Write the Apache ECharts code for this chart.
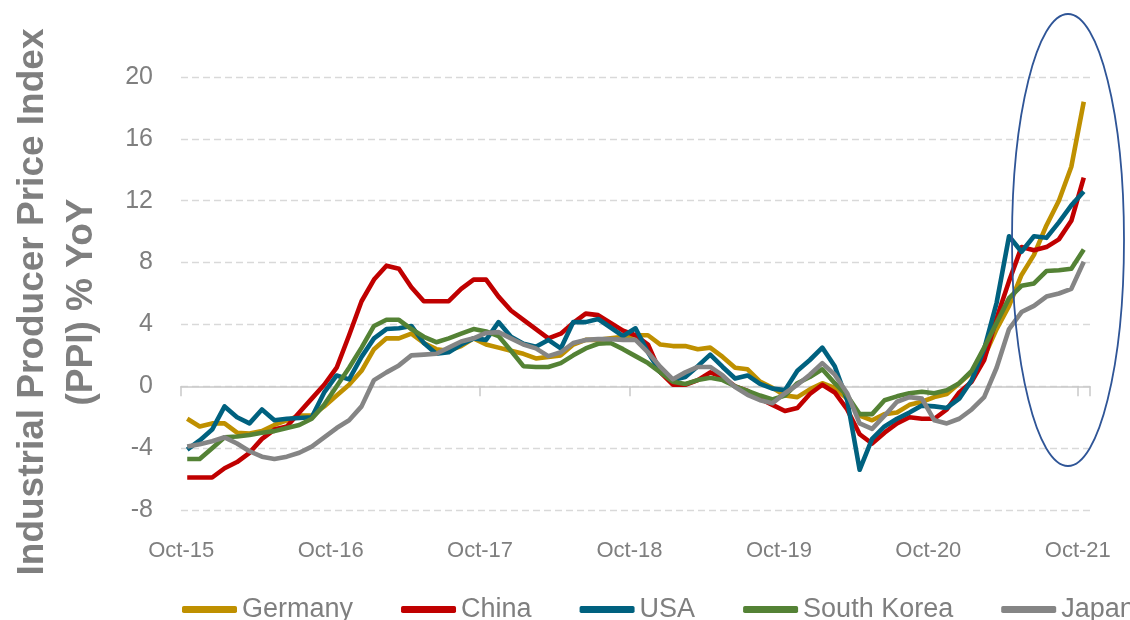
<!DOCTYPE html>
<html>
<head>
<meta charset="utf-8">
<title>Industrial Producer Price Index (PPI) % YoY</title>
<script src="https://cdn.jsdelivr.net/npm/echarts@6/dist/echarts.min.js"></script>
<style>
html, body { margin: 0; padding: 0; background: #fff; }
#chart { width: 1130px; height: 620px; }
</style>
</head>
<body>
<div id="chart"></div>
<script>
const FONT = "'Liberation Sans', Arial, sans-serif";
const GREY = '#7f7f7f';

// months Oct-15 .. Oct-21, one point per month
const monthNames = ['Jan', 'Feb', 'Mar', 'Apr', 'May', 'Jun', 'Jul', 'Aug', 'Sep', 'Oct', 'Nov', 'Dec'];
const months = [];
for (let y = 15; y <= 21; y++) {
    for (let m = 0; m < 12; m++) {
        if (y === 15 && m < 9) continue;
        if (y === 21 && m > 9) continue;
        months.push(monthNames[m] + '-' + y);
    }
}

const yTicks = [-8, -4, 0, 4, 8, 12, 16, 20];

const germany = [
    -2.1, -2.6, -2.4,
    -2.4, -3.0, -3.05, -2.9, -2.5, -2.2, -1.9, -1.9, -1.3, -0.6, 0.1, 1.0,
    2.4, 3.1, 3.1, 3.4, 2.8, 2.4, 2.3, 2.6, 3.1, 2.7, 2.5, 2.3,
    2.1, 1.8, 1.9, 2.0, 2.7, 3.0, 3.0, 3.1, 3.2, 3.3, 3.3, 2.7,
    2.6, 2.6, 2.4, 2.5, 1.9, 1.2, 1.1, 0.3, -0.1, -0.6, -0.7, -0.2,
    0.2, -0.1, -0.8, -1.9, -2.2, -1.8, -1.7, -1.2, -1.0, -0.7, -0.5, 0.2,
    0.9, 1.9, 3.7, 5.2, 7.2, 8.5, 10.4, 12.0, 14.2, 18.4
];
const china = [
    -5.9, -5.9, -5.9,
    -5.3, -4.9, -4.3, -3.4, -2.8, -2.6, -1.7, -0.8, 0.1, 1.2, 3.3, 5.5,
    6.9, 7.8, 7.6, 6.4, 5.5, 5.5, 5.5, 6.3, 6.9, 6.9, 5.8, 4.9,
    4.3, 3.7, 3.1, 3.4, 4.1, 4.7, 4.6, 4.1, 3.6, 3.3, 2.7, 0.9,
    0.1, 0.1, 0.4, 0.9, 0.6, 0.0, -0.3, -0.8, -1.2, -1.6, -1.4, -0.5,
    0.1, -0.4, -1.5, -3.1, -3.7, -3.0, -2.4, -2.0, -2.1, -2.1, -1.5, -0.4,
    0.3, 1.7, 4.4, 6.8, 9.0, 8.8, 9.0, 9.5, 10.7, 13.5
];
const usa = [
    -4.1, -3.5, -2.8,
    -1.3, -2.0, -2.4, -1.5, -2.2, -2.1, -2.05, -2.0, -0.4, 0.7, 0.45, 1.9,
    3.1, 3.7, 3.75, 3.9, 2.8, 2.1, 2.2, 2.7, 3.1, 3.0, 4.15, 3.2,
    2.75, 2.55, 3.0, 2.45, 4.15, 4.15, 4.35, 3.8, 3.25, 3.75, 2.2, 0.9,
    0.4, 0.6, 1.3, 2.05, 1.25, 0.5, 0.7, 0.15, -0.15, -0.25, 1.0, 1.7,
    2.5, 1.3, -0.9, -5.4, -3.4, -2.6, -2.1, -1.7, -1.25, -1.3, -1.4, -0.8,
    0.4, 2.4, 5.4, 9.7, 8.7, 9.7, 9.6, 10.6, 11.7, 12.6
];
const southKorea = [
    -4.7, -4.7, -4.0,
    -3.3, -3.25, -3.15, -3.0, -2.9, -2.7, -2.5, -2.1, -1.2, 0.0, 1.2, 2.5,
    3.9, 4.3, 4.3, 3.7, 3.2, 2.85, 3.1, 3.4, 3.7, 3.55, 3.25, 2.3,
    1.3, 1.25, 1.25, 1.5, 2.0, 2.45, 2.75, 2.8, 2.4, 1.95, 1.5, 0.9,
    0.3, 0.15, 0.4, 0.55, 0.4, 0.0, -0.3, -0.6, -0.85, -0.6, 0.2, 0.6,
    1.1, 0.2, -0.6, -1.8, -1.8, -0.9, -0.65, -0.45, -0.35, -0.45, -0.25, 0.2,
    1.0, 2.5, 4.1, 5.7, 6.5, 6.65, 7.45, 7.5, 7.6, 8.85
];
const japan = [
    -3.9, -3.75, -3.55,
    -3.3, -3.7, -4.2, -4.55, -4.7, -4.55, -4.3, -3.9, -3.3, -2.7, -2.2, -1.3,
    0.4, 0.9, 1.35, 2.0, 2.05, 2.1, 2.5, 2.9, 3.1, 3.45, 3.5, 3.1,
    2.7, 2.45, 1.95, 2.2, 2.8, 3.0, 3.05, 3.05, 3.0, 3.0, 2.2, 1.25,
    0.45, 0.9, 1.25, 1.25, 0.7, -0.05, -0.55, -0.9, -1.1, -0.45, 0.1, 0.75,
    1.5, 0.75, -0.45, -2.4, -2.75, -1.9, -1.0, -0.7, -0.8, -2.2, -2.4, -2.1,
    -1.5, -0.7, 1.2, 3.7, 4.8, 5.2, 5.8, 6.0, 6.3, 8.05
];

const seriesNames = ['Germany', 'China', 'USA', 'South Korea', 'Japan'];
const seriesColors = ['#bf9000', '#c00000', '#00617f', '#548235', '#858585'];
const seriesValues = [germany, china, usa, southKorea, japan];

var chart = echarts.init(document.getElementById('chart'), null, { renderer: 'canvas' });

var option = {
    animation: false,
    backgroundColor: '#fff',
    grid: { left: 181, right: 40, top: 77, bottom: 110 },
    legend: {
        data: seriesNames,
        left: 177,
        top: 591,
        width: 1400,
        itemGap: 48,
        itemWidth: 55,
        itemHeight: 7,
        icon: 'roundRect',
        textStyle: { fontFamily: FONT, fontSize: 27, color: GREY }
    },
    xAxis: [
        {
            // zero line + ticks
            type: 'category',
            data: months,
            boundaryGap: true,
            axisLine: { show: true, onZero: true, lineStyle: { color: '#c9c9c9', width: 1.5 } },
            axisTick: { show: true, interval: 11, length: 10, lineStyle: { color: '#c9c9c9', width: 1.5 } },
            axisLabel: { show: true, interval: 11, color: 'rgba(0,0,0,0)', fontSize: 1 },
            splitLine: { show: false }
        },
        {
            // labels at the bottom
            type: 'category',
            data: months,
            boundaryGap: true,
            position: 'bottom',
            axisLine: { show: false, onZero: false },
            axisTick: { show: false },
            axisLabel: {
                interval: 11,
                margin: 30,
                fontFamily: FONT,
                fontSize: 22,
                color: GREY,
                padding: [0, 12, 0, 0]
            },
            splitLine: { show: false }
        }
    ],
    yAxis: {
        type: 'value',
        min: yTicks[0],
        max: yTicks[yTicks.length - 1],
        interval: 4,
        axisLine: { show: false },
        axisTick: { show: false },
        axisLabel: { margin: 28, fontFamily: FONT, fontSize: 25, color: GREY },
        splitLine: { lineStyle: { color: '#d9d9d9', width: 1.3, type: [7, 4] } }
    },
    graphic: [
        {
            type: 'text',
            x: 57,
            y: 302,
            rotation: Math.PI / 2,
            style: {
                text: 'Industrial Producer Price Index\n(PPI) % YoY',
                font: 'bold 37px ' + FONT,
                fill: GREY,
                align: 'center',
                verticalAlign: 'middle',
                lineHeight: 49
            }
        },
        {
            type: 'ellipse',
            shape: { cx: 1068, cy: 240, rx: 56, ry: 226 },
            style: { fill: 'none', stroke: '#2f5597', lineWidth: 1.8 },
            z: 100
        }
    ],
    series: seriesNames.map(function(name, i) {
        return {
            name: name,
            type: 'line',
            xAxisIndex: 0,
            data: seriesValues[i],
            symbol: 'none',
            color: seriesColors[i],
            lineStyle: { width: 4.6, color: seriesColors[i], join: 'round' },
            emphasis: { disabled: true }
        };
    })
};

chart.setOption(option);
</script>
</body>
</html>
